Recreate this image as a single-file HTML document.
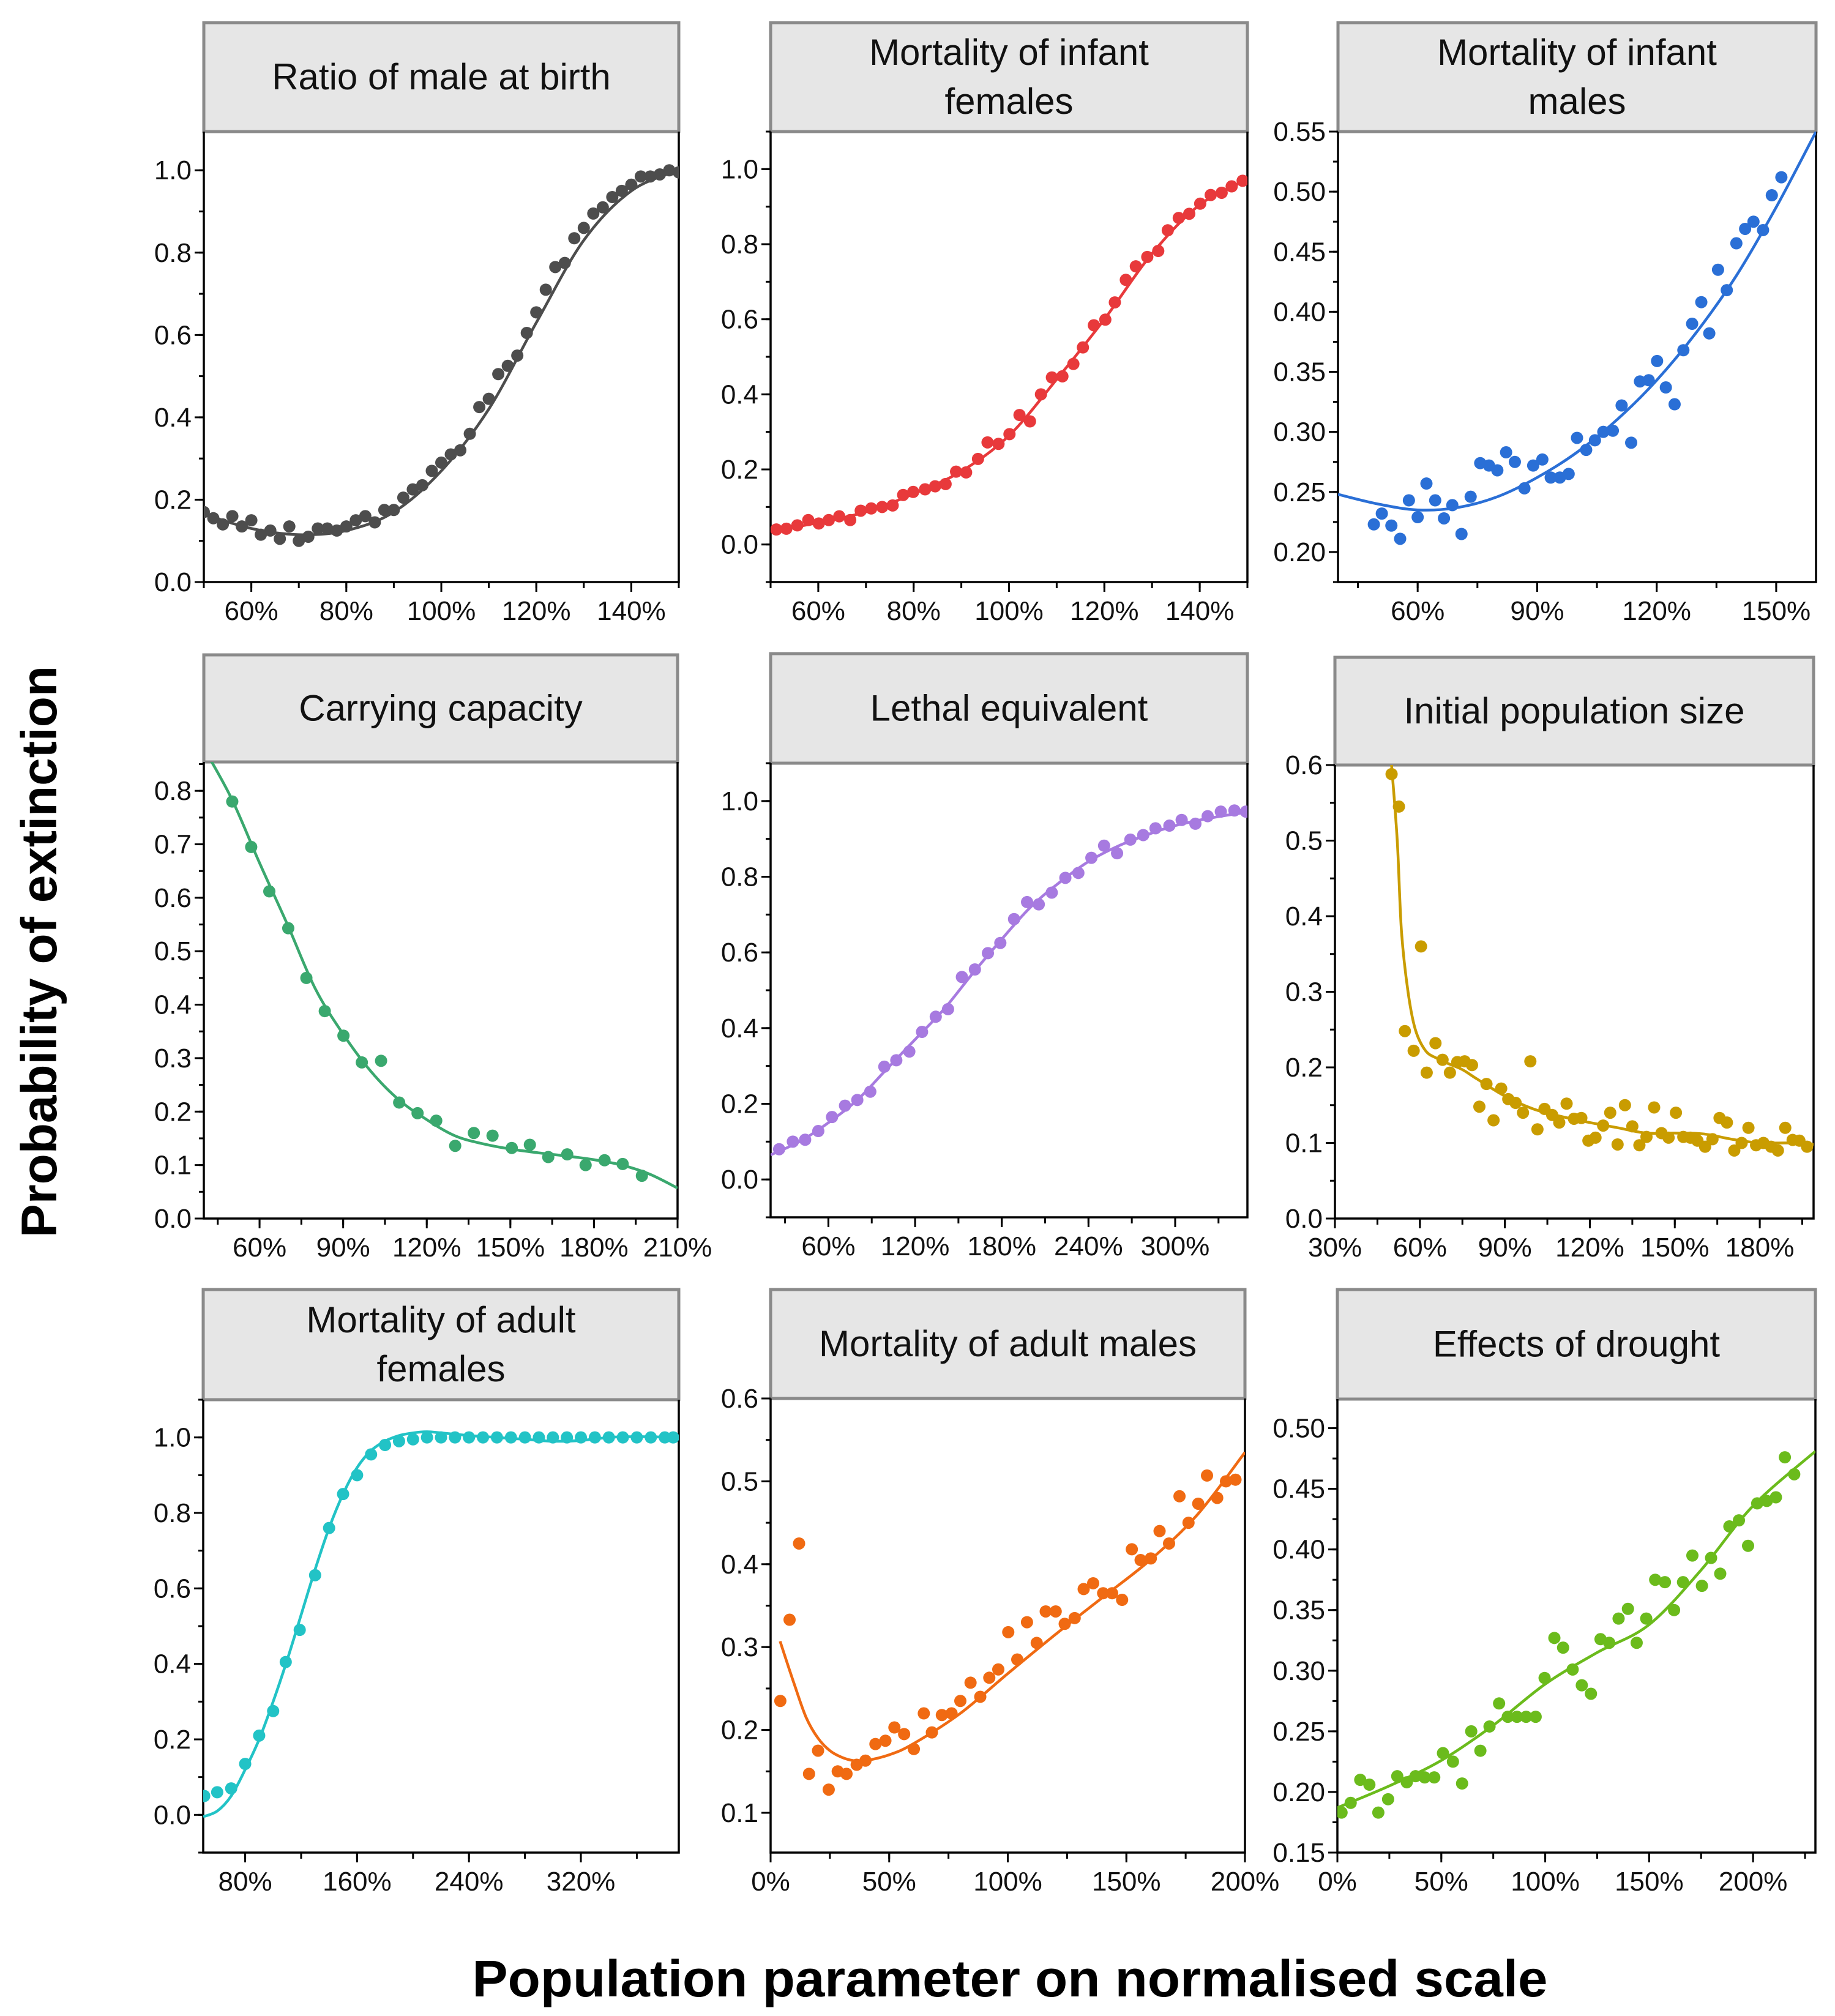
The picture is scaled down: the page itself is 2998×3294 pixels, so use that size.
<!DOCTYPE html>
<html><head><meta charset="utf-8">
<style>
html,body{margin:0;padding:0;background:#fff;}
svg{display:block;font-family:"Liberation Sans",sans-serif;}
</style></head>
<body>
<svg id="fig" width="2998" height="3294" viewBox="0 0 2998 3294" xmlns="http://www.w3.org/2000/svg">
<rect width="2998" height="3294" fill="#fff"/>
<text transform="translate(92,1555) rotate(-90)" text-anchor="middle" font-size="82" font-weight="bold" fill="#000">Probability of extinction</text>
<text x="1650" y="3262" text-anchor="middle" font-size="84" font-weight="bold" fill="#000" textLength="1757" lengthAdjust="spacingAndGlyphs">Population parameter on normalised scale</text>
</svg>
<script>
// ---- data ----
const p1x=[50,52,54,56,58,60,62,64,66,68,70,72,74,76,78,80,82,84,86,88,90,92,94,96,98,100,102,104,106,108,110,112,114,116,118,120,122,124,126,128,130,132,134,136,138,140,142,144,146,148,150];
const p1y=[0.17,0.155,0.14,0.16,0.135,0.15,0.115,0.125,0.105,0.135,0.10,0.11,0.13,0.13,0.125,0.135,0.15,0.16,0.145,0.175,0.175,0.205,0.225,0.235,0.27,0.29,0.31,0.32,0.36,0.425,0.445,0.505,0.525,0.55,0.605,0.655,0.71,0.765,0.775,0.835,0.86,0.895,0.91,0.935,0.95,0.965,0.985,0.985,0.99,1.0,0.995];
const p1fx=[50,60,70,80,90,100,110,120,130,140,150];
const p1fy=[0.165,0.13,0.115,0.125,0.17,0.27,0.42,0.63,0.83,0.95,1.0];

const p2x=[51.2,53.3,55.6,57.9,60.1,62.2,64.4,66.7,68.9,71.1,73.4,75.6,77.8,79.9,82.4,84.5,86.7,88.9,91,93.5,95.5,97.8,100.1,102.2,104.4,106.7,109,111.2,113.5,115.5,117.8,120.2,122.2,124.5,126.6,129,131.3,133.3,135.6,137.8,140.1,142.3,144.6,146.7,149];
const p2y=[0.040,0.042,0.051,0.065,0.056,0.065,0.075,0.065,0.090,0.096,0.100,0.104,0.132,0.140,0.147,0.155,0.161,0.194,0.192,0.228,0.272,0.268,0.294,0.345,0.328,0.400,0.445,0.448,0.481,0.525,0.584,0.599,0.645,0.705,0.741,0.766,0.782,0.837,0.870,0.881,0.908,0.931,0.937,0.954,0.969];
const p2fx=[50,60,70,80,90,100,110,120,130,140,150];
const p2fy=[0.035,0.058,0.087,0.135,0.195,0.29,0.44,0.6,0.775,0.905,0.972];

const p3x=[49,51,53.4,55.6,57.8,60,62.2,64.4,66.6,68.7,71,73.3,75.7,77.9,80,82.2,84.4,86.8,89,91.3,93.4,95.7,97.9,100,102.3,104.5,106.6,109,111.2,113.6,115.8,118,120.1,122.3,124.5,126.7,128.9,131.2,133.2,135.4,137.6,140,142.2,144.3,146.7,148.9,151.3];
const p3y=[0.223,0.232,0.222,0.211,0.243,0.229,0.257,0.243,0.228,0.239,0.215,0.246,0.274,0.272,0.268,0.283,0.275,0.253,0.272,0.277,0.262,0.262,0.265,0.295,0.285,0.293,0.300,0.301,0.322,0.291,0.342,0.343,0.359,0.337,0.323,0.368,0.390,0.408,0.382,0.435,0.418,0.457,0.469,0.475,0.468,0.497,0.512];
const p3fx=[40,50,60,70,80,90,100,110,120,130,140,150,160];
const p3fy=[0.248,0.24,0.235,0.237,0.246,0.262,0.283,0.31,0.343,0.383,0.43,0.487,0.55];

const p4x=[50.2,57,63.5,70.3,76.8,83.4,90.1,96.7,103.6,110.1,116.7,123.4,130.2,136.9,143.6,150.5,157,163.6,170.4,177,183.8,190.3,197.2];
const p4y=[0.78,0.695,0.612,0.543,0.45,0.388,0.342,0.292,0.295,0.217,0.197,0.183,0.136,0.16,0.155,0.132,0.138,0.115,0.12,0.1,0.109,0.102,0.08];
const p4fx=[40,50,60,70,80,90,100,110,120,130,140,150,160,170,180,190,200,210];
const p4fy=[0.88,0.785,0.665,0.55,0.43,0.345,0.275,0.222,0.185,0.155,0.14,0.13,0.123,0.117,0.11,0.1,0.083,0.057];

const p5x=[25.9,35.4,43.9,53,62.5,71.5,80,89,98.7,107,116,124.8,134.3,142.8,152.4,161.4,170.4,179,188.5,197.5,205.6,214.6,224,233,242,250.8,259.8,269,277.9,286.4,296,304.5,314,322.5,331.6,341,349];
const p5y=[0.08,0.10,0.105,0.128,0.165,0.195,0.21,0.232,0.298,0.315,0.338,0.39,0.43,0.45,0.535,0.555,0.598,0.625,0.688,0.733,0.727,0.758,0.797,0.81,0.85,0.882,0.862,0.898,0.91,0.928,0.935,0.95,0.94,0.96,0.972,0.975,0.972];
const p5fx=[20,40,60,80,100,120,140,160,180,200,220,240,260,280,300,320,340,350];
const p5fy=[0.065,0.1,0.15,0.21,0.29,0.37,0.45,0.545,0.635,0.72,0.785,0.84,0.88,0.91,0.935,0.952,0.965,0.97];

const p6x=[50,52.6,54.7,57.8,60.4,62.4,65.5,68,70.6,73.2,75.8,78.4,81,83.5,86,88.7,91.2,93.8,96.4,99,101.5,104,106.7,109.2,111.8,114.4,117,119.5,122,124.7,127.2,129.8,132.4,135,137.5,140,142.7,145.3,147.8,150.4,153,155.5,158,160.7,163.3,165.8,168.4,171,173.6,176,178.7,181.3,184,186.4,189,191.6,194,196.7];
const p6y=[0.588,0.545,0.248,0.222,0.36,0.193,0.232,0.21,0.193,0.207,0.208,0.203,0.148,0.178,0.13,0.172,0.158,0.153,0.14,0.208,0.118,0.145,0.137,0.127,0.152,0.132,0.133,0.103,0.107,0.123,0.14,0.098,0.15,0.122,0.097,0.108,0.147,0.113,0.107,0.14,0.108,0.107,0.103,0.095,0.105,0.133,0.127,0.09,0.1,0.12,0.097,0.1,0.095,0.09,0.12,0.104,0.103,0.095];
const p6fx=[50,52,53.5,55.8,58.4,62,66,70,75,80,90,100,110,120,130,140,150,160,170,180,190,200];
const p6fy=[0.6,0.5,0.38,0.3,0.25,0.222,0.212,0.205,0.197,0.185,0.162,0.145,0.135,0.127,0.12,0.113,0.113,0.112,0.105,0.1,0.1,0.098];

const p7x=[50.7,60,70,80,90,100,109,119,130,140,150,160,170,180,190,200,210,220,230,240,250,260,270,280,290,300,310,320,330,340,350,360,370,380,386];
const p7y=[0.05,0.06,0.07,0.135,0.21,0.275,0.405,0.49,0.635,0.76,0.85,0.9,0.955,0.98,0.99,0.995,1.0,1.0,1.0,1.0,1.0,1.0,1.0,1.0,1.0,1.0,1.0,1.0,1.0,1.0,1.0,1.0,1.0,1.0,1.0];
const p7fx=[50,60,70,80,90,100,110,120,130,140,150,160,170,180,190,200,210,220,240,260,280,300,320,340,360,390];
const p7fy=[-0.005,0.01,0.05,0.12,0.2,0.3,0.41,0.53,0.65,0.76,0.85,0.92,0.965,0.99,1.005,1.012,1.015,1.012,1.005,1.0,0.995,0.99,0.992,1.0,1.002,1.0];

const p8x=[4.1,8,12,16.2,20,24.5,28.3,32,36.3,40,44.2,48.4,52.2,56.3,60.4,64.6,68,72.2,76.3,80,84.3,88.4,92.2,96,100.2,104,108.1,112.2,116,120.2,124,128.2,132,136,140.2,144,148.2,152.3,156,160.3,164,168,172.4,176.2,180.3,184,188.3,192,196];
const p8y=[0.235,0.333,0.425,0.147,0.175,0.128,0.15,0.147,0.158,0.163,0.183,0.187,0.203,0.195,0.177,0.22,0.197,0.218,0.22,0.235,0.257,0.24,0.263,0.273,0.318,0.285,0.33,0.305,0.343,0.343,0.328,0.335,0.37,0.377,0.365,0.365,0.357,0.418,0.405,0.407,0.44,0.425,0.482,0.45,0.473,0.507,0.48,0.5,0.502];
const p8fx=[4,10,15,20,25,30,35,40,50,60,80,100,120,140,160,180,200];
const p8fy=[0.307,0.255,0.215,0.19,0.175,0.167,0.163,0.163,0.17,0.183,0.22,0.268,0.315,0.36,0.405,0.46,0.535];

const p9x=[2,6.4,11,15.4,19.7,24.4,28.8,33.4,37.6,42,46.6,50.8,55.6,60,64.4,68.8,73.2,77.8,82,86.4,90.8,95.4,99.7,104.4,108.6,113.2,117.6,122,126.6,130.8,135.3,139.8,144,148.6,152.9,157.6,162,166.3,170.8,175.4,179.8,184.2,188.6,193.2,197.6,202,206.6,211,215.3,219.8];
const p9y=[0.183,0.191,0.210,0.206,0.183,0.194,0.213,0.208,0.213,0.212,0.212,0.232,0.225,0.207,0.250,0.234,0.254,0.273,0.262,0.262,0.262,0.262,0.294,0.327,0.319,0.301,0.288,0.281,0.326,0.323,0.343,0.351,0.323,0.343,0.375,0.373,0.350,0.373,0.395,0.370,0.393,0.380,0.419,0.424,0.403,0.438,0.440,0.443,0.476,0.462];
const p9fx=[0,25,50,75,100,125,150,175,200,230];
const p9fy=[0.187,0.205,0.226,0.255,0.289,0.315,0.338,0.383,0.436,0.481];

// tick label arrays
const p1xt=[60,80,100,120,140], p1yt=[0,0.2,0.4,0.6,0.8,1.0];
const p3xt=[60,90,120,150], p3yt=[0.20,0.25,0.30,0.35,0.40,0.45,0.50,0.55];
const p4xt=[60,90,120,150,180,210], p4yt=[0,0.1,0.2,0.3,0.4,0.5,0.6,0.7,0.8];
const p5xt=[60,120,180,240,300];
const p6xt=[30,60,90,120,150,180], p6yt=[0,0.1,0.2,0.3,0.4,0.5,0.6];
const p7xt=[80,160,240,320];
const p8xt=[0,50,100,150,200], p8yt=[0.1,0.2,0.3,0.4,0.5,0.6];
const p9xt=[0,50,100,150,200], p9yt=[0.15,0.20,0.25,0.30,0.35,0.40,0.45,0.50];

const panels=[
 {id:'ratio-male-birth',title:['Ratio of male at birth'],c:'#4d4d4d',L:333,R:1109,T:37,H:215,B:951,x0:50,x1:150,ymin:0,ymax:1.094,xs:p1x,ys:p1y,fx:p1fx,fy:p1fy,xt:p1xt,xm:10,yt:p1yt,ym:0.1,yd:1},
 {id:'infant-females',title:['Mortality of infant','females'],c:'#e8393b',L:1259,R:2038,T:37,H:215,B:951,x0:50,x1:150,ymin:-0.1,ymax:1.1,xs:p2x,ys:p2y,fx:p2fx,fy:p2fy,xt:p1xt,xm:10,yt:p1yt,ym:0.1,yd:1},
 {id:'infant-males',title:['Mortality of infant','males'],c:'#2a6fd6',L:2186,R:2967,T:37,H:215,B:951,x0:40,x1:160,ymin:0.175,ymax:0.55,xs:p3x,ys:p3y,fx:p3fx,fy:p3fy,xt:p3xt,xm:15,yt:p3yt,ym:0.025,yd:2},
 {id:'carrying-capacity',title:['Carrying capacity'],c:'#3aa86e',L:333,R:1107,T:1070,H:1245,B:1991,x0:40,x1:210,ymin:0,ymax:0.854,xs:p4x,ys:p4y,fx:p4fx,fy:p4fy,xt:p4xt,xm:15,yt:p4yt,ym:0.05,yd:1},
 {id:'lethal-equivalent',title:['Lethal equivalent'],c:'#a77ae0',L:1259,R:2038,T:1068,H:1247,B:1989,x0:20,x1:350,ymin:-0.1,ymax:1.1,xs:p5x,ys:p5y,fx:p5fx,fy:p5fy,xt:p5xt,xm:30,yt:p1yt,ym:0.1,yd:1},
 {id:'initial-population-size',title:['Initial population size'],c:'#c99c00',L:2181,R:2963,T:1074,H:1250,B:1991,x0:30,x1:199,ymin:0,ymax:0.6,xs:p6x,ys:p6y,fx:p6fx,fy:p6fy,xt:p6xt,xm:15,yt:p6yt,ym:0.05,yd:1},
 {id:'adult-females',title:['Mortality of adult','females'],c:'#22c3c6',L:332,R:1109,T:2107,H:2287,B:3027,x0:50,x1:390,ymin:-0.1,ymax:1.1,xs:p7x,ys:p7y,fx:p7fx,fy:p7fy,xt:p7xt,xm:40,yt:p1yt,ym:0.1,yd:1},
 {id:'adult-males',title:['Mortality of adult males'],c:'#f06a12',L:1259,R:2034,T:2107,H:2285,B:3027,x0:0,x1:200,ymin:0.052,ymax:0.6,xs:p8x,ys:p8y,fx:p8fx,fy:p8fy,xt:p8xt,xm:25,yt:p8yt,ym:0.05,yd:1},
 {id:'drought',title:['Effects of drought'],c:'#6bbb1c',L:2185,R:2966,T:2107,H:2286,B:3027,x0:0,x1:230,ymin:0.15,ymax:0.524,xs:p9x,ys:p9y,fx:p9fx,fy:p9fy,xt:p9xt,xm:25,yt:p9yt,ym:0.025,yd:2}
];
const NS='http://www.w3.org/2000/svg';
const svg=document.getElementById('fig');
function mk(tag,attrs,parent){const e=document.createElementNS(NS,tag);for(const k in attrs)e.setAttribute(k,attrs[k]);(parent||svg).appendChild(e);return e;}
function smooth(pts){let d='M'+pts[0][0].toFixed(1)+','+pts[0][1].toFixed(1);
 for(let i=0;i<pts.length-1;i++){const p0=pts[i-1]||pts[i],p1=pts[i],p2=pts[i+1],p3=pts[i+2]||p2;
  const c1=[p1[0]+(p2[0]-p0[0])/6,p1[1]+(p2[1]-p0[1])/6],c2=[p2[0]-(p3[0]-p1[0])/6,p2[1]-(p3[1]-p1[1])/6];
  d+=' C'+c1[0].toFixed(1)+','+c1[1].toFixed(1)+' '+c2[0].toFixed(1)+','+c2[1].toFixed(1)+' '+p2[0].toFixed(1)+','+p2[1].toFixed(1);}
 return d;}
panels.forEach((p,pi)=>{
 const g=mk('g',{});
 
 
 const sx=v=>p.L+(v-p.x0)/(p.x1-p.x0)*(p.R-p.L);
 const sy=v=>p.B-(v-p.ymin)/(p.ymax-p.ymin)*(p.B-p.H);
 const cp=mk('clipPath',{id:'clip'+pi},g);
 mk('rect',{x:p.L,y:p.H,width:p.R-p.L,height:p.B-p.H},cp);
 const hb=mk('rect',{x:p.L,y:p.T,width:p.R-p.L,height:p.H-p.T,fill:'#e6e6e6',stroke:'#8a8a8a','stroke-width':5},g);
 
 
 const cx=(p.L+p.R)/2, cy=(p.T+p.H)/2;
 const ht=mk('text',{x:cx,'text-anchor':'middle','font-size':60,fill:'#111'},g);
 
 
 if(p.title.length===1){ht.setAttribute('y',cy+20);ht.textContent=p.title[0];}
 else{p.title.forEach((t,i)=>{const ts=mk('tspan',{x:cx,y:cy-40+20+i*80},ht);ts.textContent=t;});}
 mk('path',{d:`M${p.L},${p.H} L${p.L},${p.B} L${p.R},${p.B} L${p.R},${p.H}`,fill:'none',stroke:'#000','stroke-width':3.5},g);
 for(let v=Math.ceil(p.ymin/p.ym-1e-6)*p.ym; v<=p.ymax+1e-9; v+=p.ym){const y=sy(v);if(y<p.H-1)continue;
  mk('line',{x1:p.L-8,x2:p.L,y1:y,y2:y,stroke:'#000','stroke-width':3},g);}
 p.yt.forEach(v=>{const y=sy(v);
  mk('line',{x1:p.L-15,x2:p.L,y1:y,y2:y,stroke:'#000','stroke-width':3},g);
  const t=mk('text',{x:p.L-20,y:y+15,'text-anchor':'end','font-size':44,fill:'#111'},g);
  
  
  t.textContent=v.toFixed(p.yd);});
 const start=Math.ceil(p.x0/p.xm-1e-6)*p.xm;
 for(let v=start; v<=p.x1+1e-9; v+=p.xm){const x=sx(v);
  mk('line',{x1:x,x2:x,y1:p.B,y2:p.B+10,stroke:'#000','stroke-width':3},g);}
 p.xt.forEach(v=>{const x=sx(v);
  mk('line',{x1:x,x2:x,y1:p.B,y2:p.B+16,stroke:'#000','stroke-width':3},g);
  const t=mk('text',{x:x,y:p.B+62,'text-anchor':'middle','font-size':44,fill:'#111'},g);
  
  
  t.textContent=v+'%';});
 const pts=p.fx.map((v,i)=>[sx(v),sy(p.fy[i])]);
 const fl=mk('path',{d:smooth(pts),fill:'none',stroke:p.c,'stroke-width':4.5,'clip-path':`url(#clip${pi})`},g);
 
 
 p.xs.forEach((v,i)=>{const c=mk('circle',{cx:sx(v),cy:sy(p.ys[i]),r:10,fill:p.c,'clip-path':`url(#clip${pi})`},g);
  
  });
});
</script>
</body></html>
